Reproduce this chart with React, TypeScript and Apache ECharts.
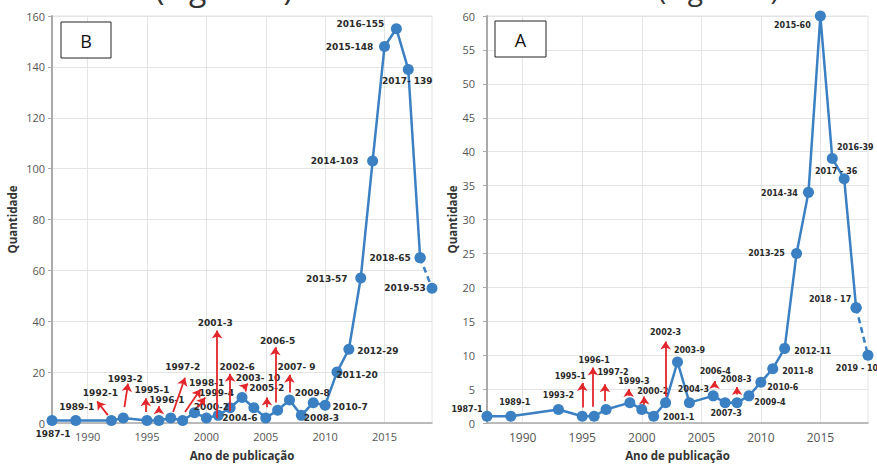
import React, { useEffect, useRef } from "react";
import * as echarts from "echarts";

// ---------- Data: panel B (left) ----------
const yearsB = [1987, 1989, 1992, 1993, 1995, 1996, 1997, 1998, 1999, 2000, 2001, 2002, 2003, 2004, 2005, 2006, 2007, 2008, 2009, 2010, 2011, 2012, 2013, 2014, 2015, 2016, 2017, 2018, 2019];
const valuesB = [1, 1, 1, 2, 1, 1, 2, 1, 4, 2, 3, 6, 10, 6, 2, 5, 9, 3, 8, 7, 20, 29, 57, 103, 148, 155, 139, 65, 53];
const labelsB = ["1987-1", "1989-1", "1992-1", "1993-2", "1995-1", "1996-1", "1997-2", "1998-1", "1999-4", "2000-2", "2001-3", "2002-6", "2003- 10", "2004-6", "2005-2", "2006-5", "2007- 9", "2008-3", "2009-8", "2010-7", "2011-20", "2012-29", "2013-57", "2014-103", "2015-148", "2016-155", "2017- 139", "2018-65", "2019-53"];
// arrows in data coordinates: [x1, y1, x2, y2]
const arrowsB = [
  [1991.7, 3.1, 1990.8, 8.5],
  [1993.1, 6.2, 1993.4, 15.5],
  [1994.9, 4.3, 1994.9, 9.7],
  [1996.0, 4.3, 1996.0, 6.6],
  [1997.2, 4.3, 1998.2, 17.8],
  [1998.2, 4.3, 1999.5, 13.2],
  [1999.3, 6.2, 1999.9, 10.0],
  [2000.9, 1.9, 2000.9, 36.4],
  [2002.0, 4.6, 2002.0, 19.4],
  [2003.1, 13.6, 2003.5, 15.5],
  [2005.1, 6.2, 2005.1, 10.0],
  [2005.8, 8.1, 2005.8, 29.8],
  [2007.0, 12.0, 2007.0, 19.0],
];

// ---------- Data: panel A (right) ----------
const yearsA = [1987, 1989, 1993, 1995, 1996, 1997, 1999, 2000, 2001, 2002, 2003, 2004, 2006, 2007, 2008, 2009, 2010, 2011, 2012, 2013, 2014, 2015, 2016, 2017, 2018, 2019];
const valuesA = [1, 1, 2, 1, 1, 2, 3, 2, 1, 3, 9, 3, 4, 3, 3, 4, 6, 8, 11, 25, 34, 60, 39, 36, 17, 10];
const labelsA = ["1987-1", "1989-1", "1993-2", "1995-1", "1996-1", "1997-2", "1999-3", "2000-2", "2001-1", "2002-3", "2003-9", "2004-3", "2006-4", "2007-3", "2008-3", "2009-4", "2010-6", "2011-8", "2012-11", "2013-25", "2014-34", "2015-60", "2016-39", "2017 - 36", "2018 - 17", "2019 - 10"];
const arrowsA = [
  [1995.0, 2.3, 1995.0, 5.9],
  [1995.9, 2.4, 1995.9, 8.2],
  [1996.9, 3.2, 1996.9, 5.7],
  [1998.9, 4.0, 1998.9, 5.0],
  [2000.2, 2.7, 2000.2, 3.9],
  [2002.0, 3.9, 2002.0, 12.0],
  [2006.1, 5.3, 2006.1, 6.2],
  [2008.0, 4.2, 2008.0, 5.3],
];

// ---------- Axes ----------
const xMin = 1987;
const xMax = 2019;
const xTickValues = [1990, 1995, 2000, 2005, 2010, 2015];
const yMaxB = 160;
const yStepB = 20;
const yMaxA = 60;
const yStepA = 5;

// ---------- Styling (label pixel offsets relative to each point) ----------
const labelOffsetB = [
  [1, 14], [1, -13], [-11, -27], [2, -39], [5, -30], [8, -20], [12, -51], [24, -37], [22, -20], [5, -11],
  [-3, -92], [7, -41], [16, -20], [-14, 10], [1, -30], [0, -69], [7, -33], [20, 3], [-1, -10], [25, 2],
  [20, 3], [29, 2], [-34, 1], [-38, 0], [-35, 0], [-36, -5], [-1, 12], [-30, 0], [-27, 0],
];
const labelOffsetA = [
  [-20, -7], [4, -14], [0, -14], [-12, -40], [0, -56], [7, -37], [4, -21], [11, -18], [25, 1], [0, -70],
  [12, -11], [4, -13], [2, -24], [1, 11], [-1, -23], [21, 7], [22, 5], [25, 3], [28, 3], [-30, 0],
  [-29, 1], [-28, 9], [23, -11], [-8, -7], [-26, -8], [-11, 13],
];

const BLUE = "#3a80c3";
const RED = "#e3262b";
const LABEL_FONT = "DejaVu Sans";
const AXIS_FONT = "Open Sans";

function buildSeries(
  years: number[],
  values: number[],
  labels: string[],
  offsets: number[][],
  arrows: number[][],
  idx: number,
  fontSize: number
) {
  const pts = years.map((y, i) => ({
    name: labels[i],
    value: [y, values[i]],
    label: { offset: offsets[i] },
  }));
  const n = pts.length;
  const labelCfg = {
    show: true,
    position: "inside",
    formatter: (p: any) => p.name,
    color: "#2a2a2a",
    fontFamily: LABEL_FONT,
    fontWeight: "bold",
    fontSize,
    align: "center",
    verticalAlign: "middle",
  };
  const common = {
    type: "line",
    xAxisIndex: idx,
    yAxisIndex: idx,
    symbol: "circle",
    symbolSize: 11,
    itemStyle: { color: BLUE },
    emphasis: { disabled: true },
    label: labelCfg,
    z: 3,
  };
  return [
    {
      ...common,
      data: pts.slice(0, n - 1),
      lineStyle: { color: BLUE, width: 2.5 },
      markLine: {
        silent: true,
        symbol: ["none", "arrow"],
        symbolSize: 8,
        label: { show: false },
        emphasis: { disabled: true },
        lineStyle: { color: RED, width: 1.8, type: "solid" },
        itemStyle: { color: RED },
        data: arrows.map((a) => [{ coord: [a[0], a[1]] }, { coord: [a[2], a[3]] }]),
      },
    },
    {
      ...common,
      data: [
        { ...pts[n - 2], label: { show: false } },
        pts[n - 1],
      ],
      lineStyle: { color: BLUE, width: 2.5, type: [6, 4] },
    },
  ];
}

function xAxisCfg(idx: number, fontSize: number) {
  return {
    type: "value",
    gridIndex: idx,
    min: xMin,
    max: xMax,
    name: "Ano de publicação",
    nameLocation: "middle",
    nameGap: 26,
    nameTextStyle: { fontFamily: AXIS_FONT, fontWeight: "bold", fontSize: 11.5, color: "#333" },
    axisLine: { show: true, lineStyle: { color: "#aaa", width: 1.5 } },
    axisTick: { show: false, customValues: xTickValues },
    axisLabel: {
      customValues: xTickValues,
      color: "#555",
      fontFamily: AXIS_FONT,
      fontSize,
      margin: 8,
      formatter: (v: number) => String(v),
    },
    splitLine: { show: true, lineStyle: { color: "#e4e4e4", width: 1 } },
  };
}

function yAxisCfg(idx: number, max: number, step: number, gap: number, margin: number) {
  return {
    type: "value",
    gridIndex: idx,
    min: 0,
    max,
    interval: step,
    name: "Quantidade",
    nameLocation: "middle",
    nameGap: gap,
    nameTextStyle: { fontFamily: AXIS_FONT, fontWeight: "bold", fontSize: 11.5, color: "#333" },
    axisLine: { show: true, lineStyle: { color: "#aaa", width: 2 } },
    axisTick: { show: true, length: 4, lineStyle: { color: "#aaa" } },
    axisLabel: { color: "#555", fontFamily: AXIS_FONT, fontSize: 11, margin },
    splitLine: { show: true, lineStyle: { color: "#e4e4e4", width: 1 } },
  };
}

function boxLabel(x: number, y: number, w: number, h: number, letter: string) {
  return [
    { type: "rect", shape: { x, y, width: w, height: h }, style: { fill: "#fff", stroke: "#222", lineWidth: 1 }, z: 10 },
    {
      type: "text",
      x: x + w / 2,
      y: y + h / 2 + 1,
      z: 11,
      style: {
        text: letter,
        fill: "#111",
        fontFamily: AXIS_FONT,
        fontSize: 18,
        align: "center",
        verticalAlign: "middle",
        textAlign: "center",
        textVerticalAlign: "middle",
      },
    },
  ];
}

export default function App() {
  const ref = useRef<HTMLDivElement>(null);
  useEffect(() => {
    if (!ref.current) return;
    const chart = echarts.init(ref.current, null, { renderer: "svg" });
    chart.setOption({
      animation: false,
      backgroundColor: "#ffffff",
      grid: [
        { left: 52, top: 16, width: 380, height: 413, show: true, borderColor: "#e4e4e4", borderWidth: 1 },
        { left: 487, top: 16, width: 381, height: 418, show: true, borderColor: "#e4e4e4", borderWidth: 1 },
      ],
      xAxis: [xAxisCfg(0, 11), xAxisCfg(1, 12)],
      yAxis: [yAxisCfg(0, yMaxB, yStepB, 34, 7), yAxisCfg(1, yMaxA, yStepA, 28, 12)],
      series: [
        ...buildSeries(yearsB, valuesB, labelsB, labelOffsetB, arrowsB, 0, 9),
        ...buildSeries(yearsA, valuesA, labelsA, labelOffsetA, arrowsA, 1, 8),
      ],
      graphic: [
        ...boxLabel(61, 22, 50, 36, "B"),
        ...boxLabel(495, 21, 51, 36, "A"),
        {
          type: "text",
          x: 155,
          y: 3,
          style: { text: "(Figura 3)", fill: "#333", fontFamily: AXIS_FONT, fontSize: 32, verticalAlign: "bottom", textVerticalAlign: "bottom" },
        },
        {
          type: "text",
          x: 658,
          y: 3,
          style: { text: "(Figura 2)", fill: "#333", fontFamily: AXIS_FONT, fontSize: 28, verticalAlign: "bottom", textVerticalAlign: "bottom" },
        },
      ],
    });
    return () => chart.dispose();
  }, []);
  return <div ref={ref} style={{ position: "absolute", left: 0, top: 0, width: 877, height: 466 }} />;
}
